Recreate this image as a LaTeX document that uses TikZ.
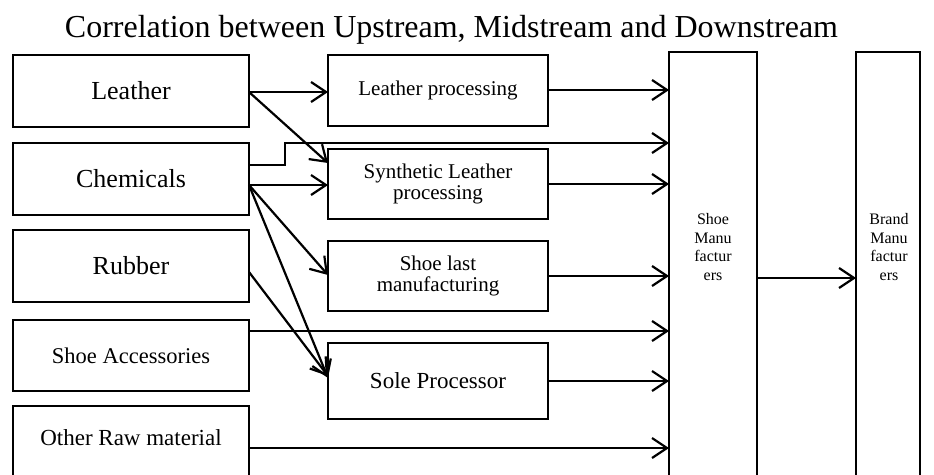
\documentclass[tikz,border=0pt]{standalone}
\usepackage{fontspec}
\setmainfont{Liberation Serif}
\usetikzlibrary{arrows.meta}
\begin{document}
\begin{tikzpicture}[x=1pt,y=-1pt,
  box/.style={draw, line width=2pt, inner sep=0pt, outer sep=0pt, align=center},
  flow/.style={line width=2.2pt, -{Straight Barb[length=15pt,width=20pt,line width=2.2pt]}},
  big/.style={font=\fontsize{26}{30}\selectfont},
  mid/.style={font=\fontsize{21}{20.5}\selectfont},
]
\useasboundingbox (0,0) rectangle (934,474);
\clip (0,0) rectangle (934,474);

% title
\node[font=\fontsize{32}{36}\selectfont, anchor=base] (title) at (451.5,37)
  {Correlation between Upstream, Midstream and Downstream};

% upstream raw materials
\node[box, big, minimum width=236pt, minimum height=72pt] (leather) at (131,91) {Leather};
\node[box, big, minimum width=236pt, minimum height=72pt] (chem) at (131,179) {Chemicals};
\node[box, big, minimum width=236pt, minimum height=72pt] (rubber) at (131,266) {Rubber};
\node[box, font=\fontsize{22.5}{26}\selectfont, minimum width=236pt, minimum height=71pt] (acc) at (131,355.5) {Shoe Accessories};
\node[box, minimum width=236pt, minimum height=94pt] (other) at (131,453) {};
\node[font=\fontsize{23}{26}\selectfont] (othertxt) at (131,438) {Other Raw material};

% midstream processing
\node[box, mid, minimum width=220pt, minimum height=71pt] (lproc) at (438,90.5) {Leather processing};
\node[box, mid, minimum width=220pt, minimum height=70pt] (synth) at (438,184) {Synthetic Leather\\processing};
\node[box, mid, minimum width=220pt, minimum height=70pt] (last) at (438,276) {Shoe last\\manufacturing};
\node[box, font=\fontsize{23}{26}\selectfont, minimum width=220pt, minimum height=76pt] (sole) at (438,381) {Sole Processor};

% downstream
\node[box, minimum width=88pt, minimum height=448pt] (shoe) at (713,276) {};
\node[font=\fontsize{16}{18.5}\selectfont, align=center] (shoetxt) at (713,247) {Shoe\\Manu\\factur\\ers};
\node[box, minimum width=64pt, minimum height=448pt] (brand) at (888,276) {};
\node[font=\fontsize{16}{18.5}\selectfont, align=center] (brandtxt) at (889,247) {Brand\\Manu\\factur\\ers};

% raw materials to processing
\draw[flow] (leather.east |- 0,92) -- (lproc.west |- 0,92);
\draw[flow] (leather.east |- 0,92) -- (synth.west |- 0,163);
\draw[flow] (chem.east |- 0,185) -- (synth.west |- 0,185);
\draw[flow] (chem.east |- 0,185) -- (last.west |- 0,275);
\draw[flow] (chem.east |- 0,185) -- (sole.west |- 0,378);
\draw[flow] (rubber.east |- 0,272) -- (sole.west |- 0,376);

% direct supply to shoe manufacturers
\coordinate (kink) at (285,143);
\draw[flow] (chem.east |- 0,165) -| (kink) -- (shoe.west |- kink);
\draw[flow] (acc.east |- 0,331) -- (shoe.west |- 0,331);
\draw[flow] (other.east |- 0,448) -- (shoe.west |- 0,448);

% processing to shoe manufacturers
\draw[flow] (lproc.east |- 0,90) -- (shoe.west |- 0,90);
\draw[flow] (synth.east |- 0,184) -- (shoe.west |- 0,184);
\draw[flow] (last.east |- 0,276) -- (shoe.west |- 0,276);
\draw[flow] (sole.east |- 0,381) -- (shoe.west |- 0,381);

% shoe manufacturers to brands
\draw[flow] (shoe.east |- 0,278) -- (brand.west |- 0,278);
\end{tikzpicture}
\end{document}
